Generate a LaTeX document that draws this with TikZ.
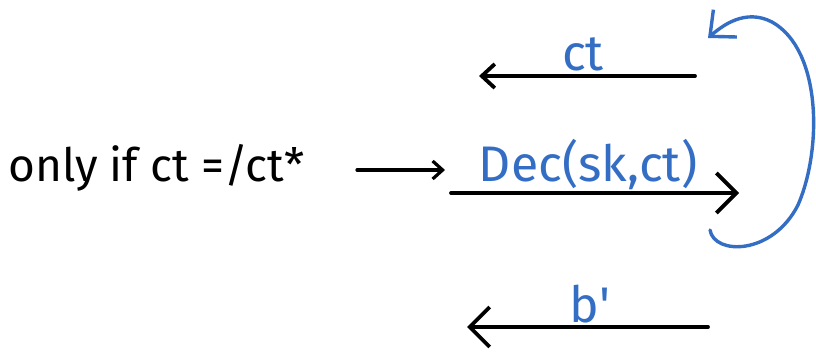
\documentclass[tikz,border=0pt]{standalone}
\usepackage{fontspec}
\setmainfont{Fira Sans}
\usetikzlibrary{arrows.meta}
\definecolor{pen}{RGB}{52,110,196}
\tikzset{
  lbl/.style={inner sep=0pt, font=\fontsize{46}{48}\selectfont},
  bluelbl/.style={inner sep=0pt, text=pen, font=\fontsize{50}{52}\selectfont},
  arr/.style={line width=3.8pt, line cap=round, -{Straight Barb[length=20pt,width=40pt,line width=3.8pt]}},
  smallarr/.style={line width=3.2pt, line cap=round, -{Straight Barb[length=10pt,width=18pt,line width=3.2pt]}},
  midarr/.style={line width=3.8pt, line cap=round, -{Straight Barb[length=13pt,width=24pt,line width=3.8pt]}},
  loop/.style={pen, line width=3.4pt, line cap=round, -{Straight Barb[length=20pt,width=36pt,line width=3.4pt]}}
}
\begin{document}
\begin{tikzpicture}[x=1pt,y=-1pt]
\useasboundingbox (0,0) rectangle (816,351);
\node[lbl, anchor=west] (cond) at (8,168) {only if ct =/ct*};
\coordinate (a1s) at (357,170);
\coordinate (a1e) at (445,170);
\draw[smallarr] (a1s) -- (a1e);

\coordinate (decs) at (451,193);
\coordinate (dece) at (739,193);
\draw[arr] (decs) -- (dece);
\node[bluelbl] (dec) at (588,165) {Dec(sk,ct)};

\coordinate (cts) at (695,76);
\coordinate (cte) at (479,76);
\draw[midarr] (cts) -- (cte);
\node[bluelbl] (ct) at (583,54) {ct};

\coordinate (bs) at (708,327);
\coordinate (be) at (467,327);
\draw[arr] (bs) -- (be);
\node[bluelbl] (b) at (590,304) {b\textquotesingle};

\coordinate (ls) at (710,230);
\coordinate (le) at (708,38);
\draw[loop] (ls) .. controls (714,255) and (772,256) .. (798,205)
  .. controls (822,150) and (822,50) .. (772,22)
  .. controls (745,8) and (722,26) .. (le);
\end{tikzpicture}
\end{document}
